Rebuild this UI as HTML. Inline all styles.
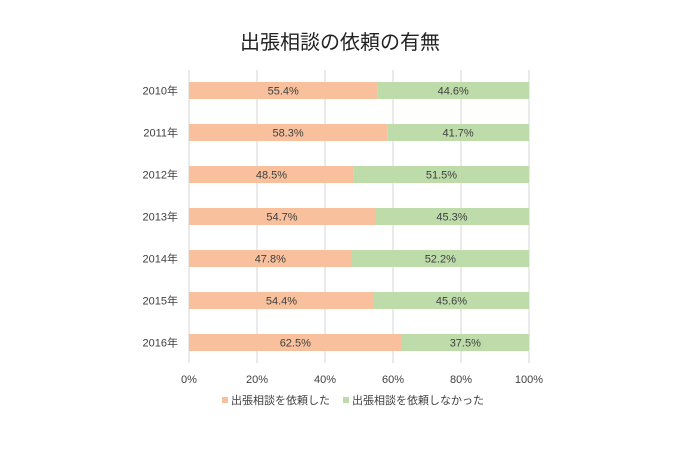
<!DOCTYPE html>
<html><head><meta charset="utf-8"><style>
html,body{margin:0;padding:0;background:#fff;}
body{width:690px;height:454px;overflow:hidden;}
svg text{font-family:"Liberation Sans","Noto Sans CJK JP",sans-serif;}
</style></head><body>
<svg width="690" height="454" viewBox="0 0 690 454" xmlns="http://www.w3.org/2000/svg">
<text x="340" y="49" text-anchor="middle" font-size="20" fill="#222">出張相談の依頼の有無</text>
<g stroke="#e3e3e3" stroke-width="1.5">
<line x1="189" y1="70" x2="189" y2="363"/>
<line x1="257" y1="70" x2="257" y2="363"/>
<line x1="325" y1="70" x2="325" y2="363"/>
<line x1="393" y1="70" x2="393" y2="363"/>
<line x1="461" y1="70" x2="461" y2="363"/>
<line x1="529" y1="70" x2="529" y2="363"/>
</g>
<g font-size="11" fill="#404040">
<rect x="189" y="82" width="188.4" height="17" fill="#f8c09c"/><rect x="377.4" y="82" width="151.6" height="17" fill="#bddcaa"/>
<text x="283.2" y="94.5" text-anchor="middle">55.4%</text><text x="453.2" y="94.5" text-anchor="middle">44.6%</text>
<text x="178" y="94.5" text-anchor="end">2010年</text>

<rect x="189" y="124" width="198.2" height="17" fill="#f8c09c"/><rect x="387.2" y="124" width="141.8" height="17" fill="#bddcaa"/>
<text x="288.1" y="136.5" text-anchor="middle">58.3%</text><text x="458.1" y="136.5" text-anchor="middle">41.7%</text>
<text x="178" y="136.5" text-anchor="end">2011年</text>

<rect x="189" y="166" width="164.9" height="17" fill="#f8c09c"/><rect x="353.9" y="166" width="175.1" height="17" fill="#bddcaa"/>
<text x="271.5" y="178.5" text-anchor="middle">48.5%</text><text x="441.5" y="178.5" text-anchor="middle">51.5%</text>
<text x="178" y="178.5" text-anchor="end">2012年</text>

<rect x="189" y="208" width="186" height="17" fill="#f8c09c"/><rect x="375" y="208" width="154" height="17" fill="#bddcaa"/>
<text x="282" y="220.5" text-anchor="middle">54.7%</text><text x="452" y="220.5" text-anchor="middle">45.3%</text>
<text x="178" y="220.5" text-anchor="end">2013年</text>

<rect x="189" y="250" width="162.5" height="17" fill="#f8c09c"/><rect x="351.5" y="250" width="177.5" height="17" fill="#bddcaa"/>
<text x="270.3" y="262.5" text-anchor="middle">47.8%</text><text x="440.3" y="262.5" text-anchor="middle">52.2%</text>
<text x="178" y="262.5" text-anchor="end">2014年</text>

<rect x="189" y="292" width="185" height="17" fill="#f8c09c"/><rect x="374" y="292" width="155" height="17" fill="#bddcaa"/>
<text x="281.5" y="304.5" text-anchor="middle">54.4%</text><text x="451.5" y="304.5" text-anchor="middle">45.6%</text>
<text x="178" y="304.5" text-anchor="end">2015年</text>

<rect x="189" y="334" width="212.5" height="17" fill="#f8c09c"/><rect x="401.5" y="334" width="127.5" height="17" fill="#bddcaa"/>
<text x="295.3" y="346.5" text-anchor="middle">62.5%</text><text x="465.3" y="346.5" text-anchor="middle">37.5%</text>
<text x="178" y="346.5" text-anchor="end">2016年</text>
</g>
<g font-size="11" fill="#404040" text-anchor="middle">
<text x="189" y="383">0%</text>
<text x="257" y="383">20%</text>
<text x="325" y="383">40%</text>
<text x="393" y="383">60%</text>
<text x="461" y="383">80%</text>
<text x="529" y="383">100%</text>
</g>
<rect x="222" y="397" width="6" height="6" fill="#f8c09c"/>
<text x="231" y="404" font-size="11" fill="#404040">出張相談を依頼した</text>
<rect x="343" y="397" width="6" height="6" fill="#bddcaa"/>
<text x="352" y="404" font-size="11" fill="#404040">出張相談を依頼しなかった</text>
</svg>
</body></html>
